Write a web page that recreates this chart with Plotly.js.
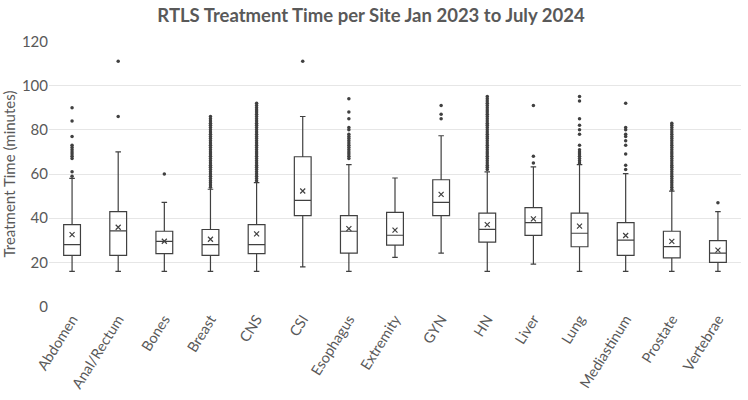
<!DOCTYPE html>
<html><head><meta charset="utf-8">
<script src="https://cdn.plot.ly/plotly-3.0.1.min.js"></script>
<style>html,body{margin:0;padding:0;background:#fff}#chart{width:748px;height:400px}</style>
</head><body><div id="chart"></div>
<script>
const sites = ["Abdomen","Anal/Rectum","Bones","Breast","CNS","CSI","Esophagus","Extremity","GYN","HN","Liver","Lung","Mediastinum","Prostate","Vertebrae"];
const lowerWhisker = [16,16,16,16,16,18,16,22.3,24.2,16,19.2,16,16,16,16];
const q1Values     = [23.2,23.2,24,23.2,24,41.2,24.2,27.8,41.2,29.2,32.2,27.1,23.2,22.1,20];
const medianValues = [28.1,34.3,29.5,28.1,28.1,48.1,34.1,32.3,47.2,35,38,33.2,30.1,27.2,24.2];
const q3Values     = [37.1,43,34.1,34.9,37.1,67.8,41.2,42.6,57.4,42.3,44.8,42.3,38,34.1,29.9];
const upperWhisker = [58,70,47.2,53.1,56.1,86,64.2,58.2,77.3,61,63.2,64.2,60.2,52.3,43];
const meanValues   = [32.6,35.9,29.6,30.5,32.9,52.3,35.3,34.6,50.8,37.1,39.7,36.4,32.2,29.5,25.6];

const outAbdomen = [59,61,67,68,69,70,71,72,73,77,84,90];
const outAnal = [86,111];
const outBones = [60];
const outBreast = [54,55,56,57,58,59,60,61,62,63,64,65,66,67,68,69,70,71,72,73,74,75,76,77,78,79,80,81,82,83,84,85,86];
const outCNS = [57,58,59,60,61,62,63,64,65,66,67,68,69,70,71,72,73,74,75,76,77,78,79,80,81,82,83,84,85,86,87,88,89,90,91,92];
const outCSI = [111];
const outEsophagus = [67,68,69,70,71,72,73,74,75,76,77,78,80,81,85,88,94];
const outExtremity = [];
const outGYN = [85,87,91];
const outHN = [62,63,64,65,66,67,68,69,70,71,72,73,74,75,76,77,78,79,80,81,82,83,84,85,86,87,88,89,90,91,92,93,94,95];
const outLiver = [65,68,91];
const outLung = [65,66,67,68,69,70,71,73,78,80,82,85,93,95];
const outMediastinum = [62,64,69,73,75,77,78,80,81,92];
const outProstate = [53,54,55,56,57,58,59,60,61,62,63,64,65,66,67,68,69,70,71,72,73,74,75,76,77,78,79,80,81,82,83];
const outVertebrae = [47];
const outliers = [outAbdomen,outAnal,outBones,outBreast,outCNS,outCSI,outEsophagus,outExtremity,outGYN,outHN,outLiver,outLung,outMediastinum,outProstate,outVertebrae];
const yTicks = [0,20,40,60,80,100,120];

const dark = '#404040';
const ox = [], oy = [];
outliers.forEach((arr,i)=>arr.forEach(v=>{ox.push(sites[i]);oy.push(v);}));

const traces = [
  {type:'box', x:sites, q1:q1Values, median:medianValues, q3:q3Values,
   lowerfence:lowerWhisker, upperfence:upperWhisker,
   fillcolor:'rgba(255,255,255,0)', line:{color:dark,width:1.2}, whiskerwidth:0.33,
   boxpoints:false, hoverinfo:'skip', showlegend:false},
  {type:'scatter', mode:'markers', x:ox, y:oy, marker:{symbol:'circle',size:3.5,color:dark},
   hoverinfo:'skip', showlegend:false},
  {type:'scatter', mode:'markers', x:sites, y:meanValues,
   marker:{symbol:'x-thin',size:5,line:{color:dark,width:1.2},color:dark},
   hoverinfo:'skip', showlegend:false}
];

const layout = {
  width:748, height:400,
  margin:{l:49,r:7,t:41,b:93},
  paper_bgcolor:'#fff', plot_bgcolor:'#fff',
  title:{text:'<b>RTLS Treatment Time per Site Jan 2023 to July 2024</b>', x:0.496, xanchor:'center', y:0.96, yanchor:'middle',
         font:{family:'Lato, sans-serif', size:18.5, color:'#595959'}},
  boxgap:0.48,
  xaxis:{type:'category', tickangle:-58, showgrid:false, zeroline:false, showline:false, ticks:'',
         tickfont:{family:'Lato, sans-serif', size:14.5, color:'#595959'}, range:[-0.5,14.5]},
  yaxis:{range:[-0.15,120.15], tickvals:yTicks, showgrid:true, gridcolor:'#e6e6e6', gridwidth:1, zeroline:false,
         showline:false, ticks:'', ticklen:0,
         tickfont:{family:'Lato, sans-serif', size:15, color:'#595959'},
         title:{text:'Treatment Time (minutes)', standoff:7, font:{family:'Lato, sans-serif', size:15, color:'#595959'}}},
  font:{family:'Lato, sans-serif', color:'#595959'}
};
Plotly.newPlot('chart', traces, layout, {staticPlot:true, displayModeBar:false});
</script></body></html>
